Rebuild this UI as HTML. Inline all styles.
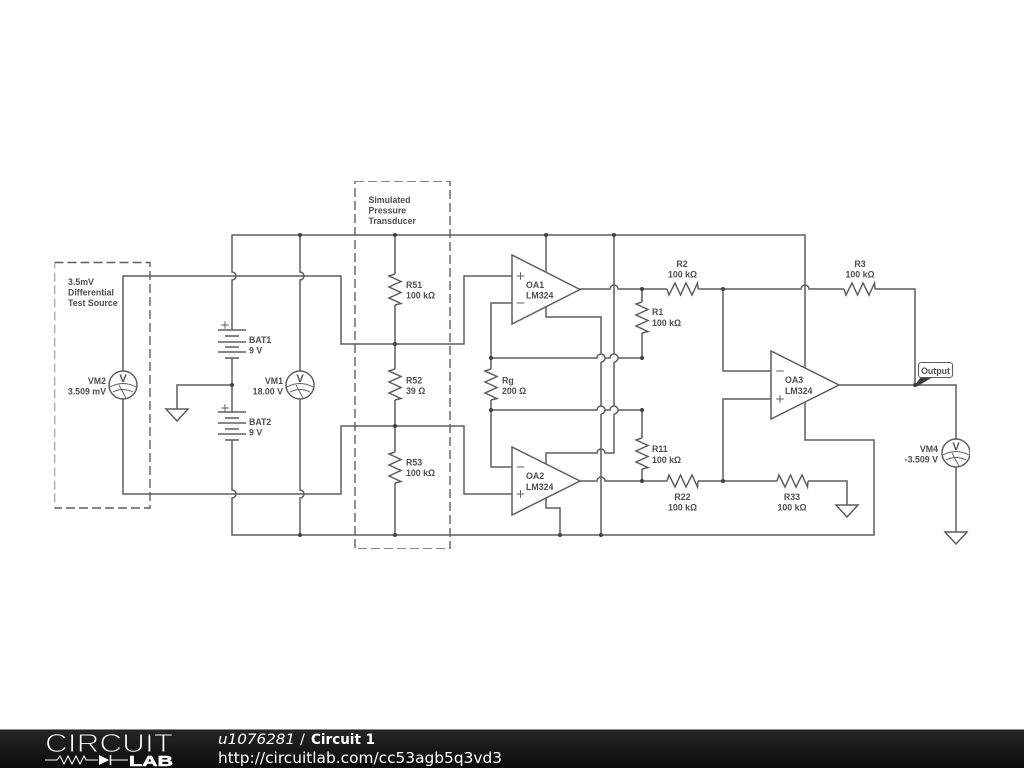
<!DOCTYPE html>
<html lang="en">
<head>
<meta charset="utf-8">
<title>Circuit 1</title>
<style>
html,body{margin:0;padding:0;background:#fff;width:1024px;height:768px;overflow:hidden}
svg{display:block;position:absolute;left:0;top:0}
.w{fill:none;stroke:#5c5f60;stroke-width:1.5;stroke-linejoin:miter}
.d{fill:none;stroke:#5c5f60;stroke-width:1.4;stroke-dasharray:9 4}
.o{fill:#fff;stroke:#5c5f60;stroke-width:1.5}
.t{font-family:"Liberation Sans",sans-serif;font-size:8.8px;font-weight:bold;fill:#4d4f50}
.e{text-anchor:end}
.m{text-anchor:middle}
.f{font-family:"DejaVu Sans",sans-serif;fill:#fff}
</style>
</head>
<body>
<svg width="1024" height="768" viewBox="0 0 1024 768" xmlns="http://www.w3.org/2000/svg">
<defs>
<filter id="sf" x="0" y="0" width="100%" height="100%"><feGaussianBlur stdDeviation="0.3"/></filter>
<path id="rv" class="w" d="M0,0L-6,2L6,7.5L-6,13L6,18.5L-6,24L6,29.5L0,31"/>
<path id="rh" class="w" d="M0,0L2,6L8,-6L13.5,6L19,-6L25,6L30.5,-6L31,0"/>
<g id="mt">
<circle r="14" class="o"/>
<path d="M-13,2Q0,-5 13,2M-10,7Q0,2 10,7M-4,0L3,13" fill="none" stroke="#5c5f60" stroke-width="0.9"/>
</g>
<path id="gn" class="o" d="M-11,0H11L0,12Z"/>
<path id="tp" d="M-3.8,0H3.8M0,-3.8V3.8" stroke="#5c5f60" stroke-width="1" fill="none"/>
<path id="tm" d="M-3.8,0H3.8" stroke="#5c5f60" stroke-width="1" fill="none"/>
<circle id="dt" r="2" fill="#3f4142"/>
<linearGradient id="bg" x1="0" y1="0" x2="0" y2="1"><stop offset="0" stop-color="#262626"/><stop offset="1" stop-color="#0c0c0c"/></linearGradient>
</defs>

<g filter="url(#sf)">
<!-- wires -->
<path class="w" d="M232,330V280A4,4 0 0 0 232,272V235H805V368"/>
<path class="w" d="M300,235V272A4,4 0 0 1 300,280V371"/>
<path class="w" d="M300,399V490A4,4 0 0 1 300,498V535"/>
<path class="w" d="M512,276H464V344H341V276H123V371"/>
<path class="w" d="M123,399V494H341V426H464V494H512"/>
<path class="w" d="M395,235V274M395,305V369M395,400V452M395,483V535"/>
<path class="w" d="M232,358V412M232,385H177V409"/>
<path class="w" d="M232,440V490A4,4 0 0 1 232,498V535H874V440H805V402"/>
<path class="w" d="M580,289H610A4,4 0 0 1 618,289H667M698,289H801A4,4 0 0 1 809,289H844M875,289H915V385"/>
<path class="w" d="M546,235V272M546,307V317H601V354M601,362V406M601,414V535"/>
<path class="w" d="M614,235V354M614,362V406M614,414V453H605A4,4 0 0 0 597,453H546V464"/>
<path class="w" d="M580,481H597A4,4 0 0 1 605,481H667M698,481H777M808,481H847V505"/>
<path class="w" d="M512,303H491V369M491,400V467H512"/>
<path class="w" d="M491,358H597A4,4 0 1 1 601,362M605,358H610A4,4 0 1 1 614,362M618,358H642"/>
<path class="w" d="M491,410H597A4,4 0 1 1 601,414M605,410H610A4,4 0 1 1 614,414M618,410H642"/>
<path class="w" d="M642,289V302M642,333V358M642,410V438M642,469V481"/>
<path class="w" d="M546,498V508H560V535"/>
<path class="w" d="M723,289V371H771M771,399H723V481"/>
<path class="w" d="M839,385H956V439M956,467V532"/>

<!-- resistors -->
<use href="#rv" x="395" y="274"/>
<use href="#rv" x="395" y="369"/>
<use href="#rv" x="395" y="452"/>
<use href="#rv" x="491" y="369"/>
<use href="#rv" x="642" y="302"/>
<use href="#rv" x="642" y="438"/>
<use href="#rh" x="667" y="289"/>
<use href="#rh" x="844" y="289"/>
<path class="w" transform="translate(667,481) scale(1,-1)" d="M0,0L2,6L8,-6L13.5,6L19,-6L25,6L30.5,-6L31,0"/>
<path class="w" transform="translate(777,481) scale(1,-1)" d="M0,0L2,6L8,-6L13.5,6L19,-6L25,6L30.5,-6L31,0"/>

<!-- batteries -->
<path class="w" d="M218,330H246M225,336H239M218,342H246M225,347H239M218,352H246M225,358H239"/>
<path class="w" d="M218,412H246M225,418H239M218,423H246M225,429H239M218,434H246M225,440H239"/>
<use href="#tp" transform="translate(225,325)"/>
<use href="#tp" transform="translate(225,408)"/>

<!-- op-amps -->
<path class="o" d="M512,255V324L580,289.5Z"/>
<path class="o" d="M512,447V515L580,481Z"/>
<path class="o" d="M771,351V419L839,385Z"/>
<use href="#tp" transform="translate(520.5,276)"/>
<use href="#tm" transform="translate(520.5,303)"/>
<use href="#tm" transform="translate(520.5,467)"/>
<use href="#tp" transform="translate(520.5,494)"/>
<use href="#tm" transform="translate(780,371)"/>
<use href="#tp" transform="translate(780,399)"/>

<!-- meters -->
<use href="#mt" transform="translate(123,385)"/>
<use href="#mt" transform="translate(300,385)"/>
<use href="#mt" transform="translate(956,453)"/>

<!-- grounds -->
<use href="#gn" transform="translate(177,409)"/>
<use href="#gn" transform="translate(847,505)"/>
<use href="#gn" transform="translate(956,532)"/>

<!-- dots -->
<use href="#dt" x="300" y="235"/><use href="#dt" x="395" y="235"/><use href="#dt" x="546" y="235"/><use href="#dt" x="614" y="235"/>
<use href="#dt" x="232" y="385"/><use href="#dt" x="300" y="535"/><use href="#dt" x="395" y="535"/><use href="#dt" x="560" y="535"/><use href="#dt" x="601" y="535"/>
<use href="#dt" x="395" y="344"/><use href="#dt" x="395" y="426"/><use href="#dt" x="491" y="358"/><use href="#dt" x="491" y="410"/>
<use href="#dt" x="642" y="358"/><use href="#dt" x="642" y="410"/><use href="#dt" x="642" y="289"/><use href="#dt" x="642" y="481"/>
<use href="#dt" x="723" y="289"/><use href="#dt" x="723" y="481"/><use href="#dt" x="915" y="385"/>

<!-- dashed boxes -->
<rect class="d" x="54.5" y="262.5" width="95.5" height="245.5"/>
<rect class="d" x="355" y="181" width="95" height="368"/>

<!-- output label -->
<path d="M914,386L921,377H933L916,387Z" fill="#3a3c3d"/>
<rect x="918.5" y="362.5" width="34" height="15" rx="2.5" fill="#fff" stroke="#5c5f60" stroke-width="1.1"/>
<text class="t m" x="935.5" y="374">Output</text>

<!-- labels -->
<text class="t" x="68" y="285">3.5mV</text>
<text class="t" x="68" y="295.5">Differential</text>
<text class="t" x="68" y="306">Test Source</text>
<text class="t e" x="106" y="384">VM2</text>
<text class="t e" x="106" y="394.5">3.509 mV</text>
<text class="t e" x="283" y="384">VM1</text>
<text class="t e" x="283" y="394.5">18.00 V</text>
<text class="t" x="249" y="343">BAT1</text>
<text class="t" x="249" y="353.5">9 V</text>
<text class="t" x="249" y="425">BAT2</text>
<text class="t" x="249" y="435.5">9 V</text>
<text class="t" x="368.5" y="203">Simulated</text>
<text class="t" x="368.5" y="213.5">Pressure</text>
<text class="t" x="368.5" y="224">Transducer</text>
<text class="t" x="406" y="288">R51</text>
<text class="t" x="406" y="298.5">100 kΩ</text>
<text class="t" x="406" y="383.5">R52</text>
<text class="t" x="406" y="394">39 Ω</text>
<text class="t" x="406" y="465.5">R53</text>
<text class="t" x="406" y="476">100 kΩ</text>
<text class="t" x="502" y="383.5">Rg</text>
<text class="t" x="502" y="394">200 Ω</text>
<text class="t" x="526" y="288">OA1</text>
<text class="t" x="526" y="298.5">LM324</text>
<text class="t" x="526" y="479">OA2</text>
<text class="t" x="526" y="490">LM324</text>
<text class="t" x="652" y="315">R1</text>
<text class="t" x="652" y="326">100 kΩ</text>
<text class="t" x="652" y="452">R11</text>
<text class="t" x="652" y="463">100 kΩ</text>
<text class="t m" x="682" y="267">R2</text>
<text class="t m" x="682.5" y="277.5">100 kΩ</text>
<text class="t m" x="860" y="267">R3</text>
<text class="t m" x="860" y="277.5">100 kΩ</text>
<text class="t" x="785" y="383">OA3</text>
<text class="t" x="785" y="394">LM324</text>
<text class="t m" x="682.5" y="500">R22</text>
<text class="t m" x="682.5" y="510.5">100 kΩ</text>
<text class="t m" x="792" y="500">R33</text>
<text class="t m" x="792" y="510.5">100 kΩ</text>
<text class="t e" x="938" y="452">VM4</text>
<text class="t e" x="938" y="462.5">-3.509 V</text>
<text class="t m" x="123" y="382" style="font-size:11px">V</text>
<text class="t m" x="300" y="382" style="font-size:11px">V</text>
<text class="t m" x="956" y="450" style="font-size:11px">V</text>
</g>

<!-- footer -->
<rect x="0" y="729" width="1024" height="39" fill="url(#bg)"/>
<rect x="0" y="729" width="1024" height="1" fill="#8a8a8a"/>
<text x="45" y="752" font-family="Liberation Sans, sans-serif" font-size="26" fill="#fff" stroke="#1c1c1c" stroke-width="1" textLength="128" lengthAdjust="spacingAndGlyphs">CIRCUIT</text>
<path d="M45,760H57L60,756L64,764L68,756L72,764L76,756L80,764L84,756L86,760H98M110,760H128" fill="none" stroke="#fff" stroke-width="1"/>
<path d="M99,755V765L109,760Z" fill="#fff"/>
<path d="M110.5,755V765" stroke="#fff" stroke-width="1.5"/>
<text x="129" y="766" font-family="Liberation Sans, sans-serif" font-size="15" font-weight="bold" fill="#fff" stroke="#fff" stroke-width="0.5" textLength="44" lengthAdjust="spacingAndGlyphs">LAB</text>
<text class="f" x="218" y="744" font-size="14.5" font-style="italic" textLength="77" lengthAdjust="spacingAndGlyphs">u1076281</text>
<text class="f" x="300" y="744" font-size="14.5">/</text>
<text class="f" x="311" y="744" font-size="14" font-weight="bold" textLength="64" lengthAdjust="spacingAndGlyphs">Circuit 1</text>
<text class="f" x="218" y="763" font-size="15" textLength="284" lengthAdjust="spacingAndGlyphs">http://circuitlab.com/cc53agb5q3vd3</text>
</svg>
</body>
</html>
